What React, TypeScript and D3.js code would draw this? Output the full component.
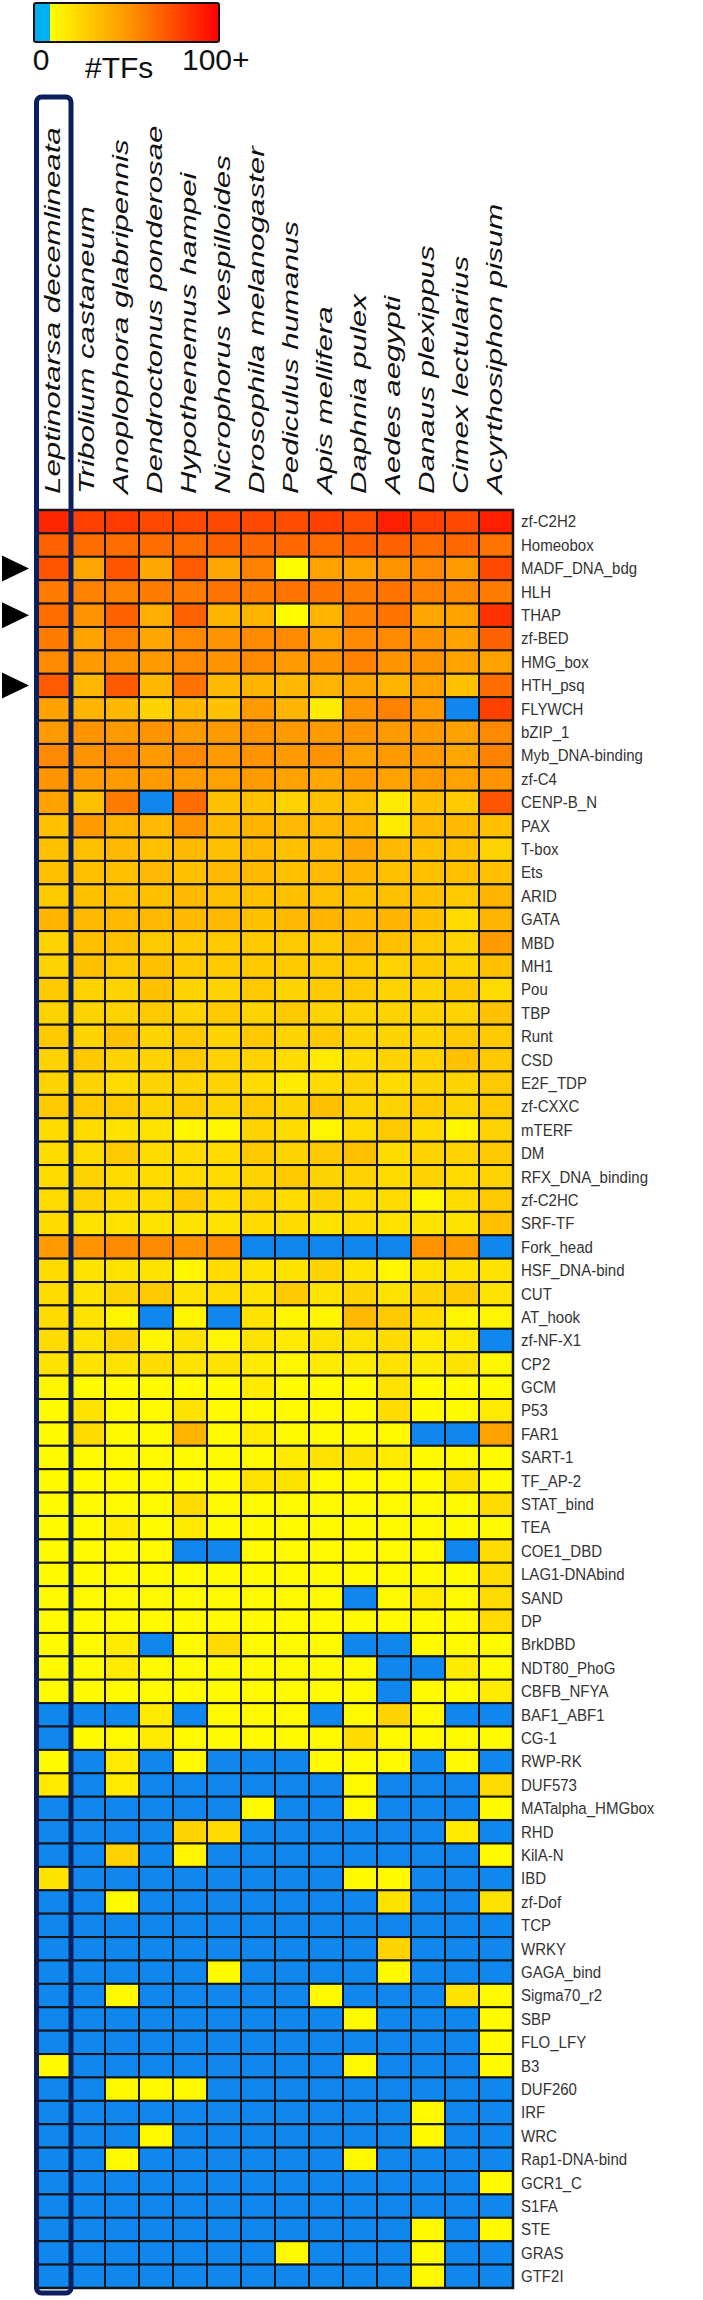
import React from "react";
import * as d3 from "d3";

const species = [
  "Leptinotarsa decemlineata",
  "Tribolium castaneum",
  "Anoplophora glabripennis",
  "Dendroctonus ponderosae",
  "Hypothenemus hampei",
  "Nicrophorus vespilloides",
  "Drosophila melanogaster",
  "Pediculus humanus",
  "Apis mellifera",
  "Daphnia pulex",
  "Aedes aegypti",
  "Danaus plexippus",
  "Cimex lectularius",
  "Acyrthosiphon pisum",
];

const families = [
  "zf-C2H2", "Homeobox", "MADF_DNA_bdg", "HLH", "THAP", "zf-BED", "HMG_box", "HTH_psq", "FLYWCH", "bZIP_1",
  "Myb_DNA-binding", "zf-C4", "CENP-B_N", "PAX", "T-box", "Ets", "ARID", "GATA", "MBD", "MH1",
  "Pou", "TBP", "Runt", "CSD", "E2F_TDP", "zf-CXXC", "mTERF", "DM", "RFX_DNA_binding", "zf-C2HC",
  "SRF-TF", "Fork_head", "HSF_DNA-bind", "CUT", "AT_hook", "zf-NF-X1", "CP2", "GCM", "P53", "FAR1",
  "SART-1", "TF_AP-2", "STAT_bind", "TEA", "COE1_DBD", "LAG1-DNAbind", "SAND", "DP", "BrkDBD", "NDT80_PhoG",
  "CBFB_NFYA", "BAF1_ABF1", "CG-1", "RWP-RK", "DUF573", "MATalpha_HMGbox", "RHD", "KilA-N", "IBD", "zf-Dof",
  "TCP", "WRKY", "GAGA_bind", "Sigma70_r2", "SBP", "FLO_LFY", "B3", "DUF260", "IRF", "WRC",
  "Rap1-DNA-bind", "GCR1_C", "S1FA", "STE", "GRAS", "GTF2I",
];

const markedFamilies = ["MADF_DNA_bdg", "THAP", "HTH_psq"];

// #TFs per family (rows in the order of `families`), one array per species
const lde = [85,62,67,52,58,52,47,65,37,40, 47,43,37,25,25,25,22,30,18,18, 22,18,22,18,18,22,15,15,15,15, 15,40,15,15,15,15,12,5,3,3, 3,3,3,3,3,3,3,3,3,3, 3,0,0,3,9,0,0,0,12,0, 0,0,0,0,0,0,3,0,0,0, 0,0,0,0,0,0];
const tca = [75,58,35,50,43,37,40,29,30,43, 43,40,25,40,25,25,25,28,25,25, 18,18,18,22,18,22,15,15,18,18, 12,43,12,12,12,12,12,3,12,15, 3,3,3,3,3,3,3,3,3,3, 3,0,3,0,0,0,0,0,0,0, 0,0,0,0,0,0,0,0,0,0, 0,0,0,0,0,0];
const agl = [78,58,67,50,62,50,43,65,29,40, 47,40,52,30,28,25,25,28,25,22, 18,18,25,18,15,22,12,22,15,15, 12,47,12,18,5,18,12,3,3,3, 3,3,3,9,3,3,3,3,9,9, 3,0,3,9,9,0,0,18,0,3, 0,0,0,3,0,0,0,3,0,0, 3,0,0,0,0,0];
const dpo = [72,58,35,52,33,35,40,29,18,43, 40,40,0,28,25,28,25,28,22,25, 25,22,18,18,18,18,12,15,15,15, 12,47,12,22,0,5,15,3,3,3, 3,3,3,3,3,3,3,3,0,3, 3,9,9,0,0,0,0,0,0,0, 0,0,0,0,0,0,0,3,0,3, 0,0,0,0,0,0];
const hha = [72,58,65,52,62,47,47,55,29,40, 47,40,58,43,28,25,28,28,22,22, 18,18,22,22,18,22,5,15,15,22, 12,43,5,12,5,12,12,3,12,30, 3,3,15,9,0,3,3,3,3,3, 3,0,3,3,0,0,18,5,0,0, 0,0,0,0,0,0,0,3,0,0, 0,0,0,0,0,0];
const nve = [72,62,35,55,30,43,43,28,25,40, 40,37,25,28,25,28,25,28,22,22, 18,22,18,18,18,18,5,15,15,15, 12,47,15,15,0,5,12,3,3,3, 3,3,3,3,0,3,3,3,15,3, 3,3,3,0,0,0,15,0,0,0, 0,0,3,0,0,0,0,0,0,0, 0,0,0,0,0,0];
const dme = [72,60,50,52,30,47,47,30,40,43, 43,40,25,30,28,28,25,25,22,22, 22,18,22,18,15,22,18,22,18,18, 15,0,12,12,12,12,9,9,3,9, 3,12,3,3,3,3,3,3,3,3, 3,3,3,0,0,3,0,0,0,0, 0,0,0,0,0,0,0,0,0,0, 0,0,0,0,0,0];
const phu = [70,60,2,55,2,47,40,28,30,40, 40,37,18,28,25,25,25,28,22,22, 18,22,18,15,9,18,15,18,22,15, 15,0,12,22,5,9,5,3,3,3, 9,12,3,3,3,3,3,3,3,3, 3,3,3,0,0,0,0,0,0,0, 0,0,0,0,0,0,0,0,0,0, 0,0,0,0,3,0];
const ame = [75,58,37,55,30,37,43,30,9,40, 43,35,25,28,28,28,25,30,22,22, 22,18,22,9,15,25,5,22,18,18, 12,0,18,12,5,12,9,3,3,3, 12,3,3,3,3,3,3,3,3,3, 3,0,3,3,0,0,0,0,0,0, 0,0,0,3,0,0,0,0,0,0, 0,0,0,0,0,0];
const dpu = [70,62,37,52,50,47,50,35,43,43, 37,40,25,30,35,30,25,28,28,22, 22,18,18,15,18,18,15,25,18,15, 15,0,12,18,28,12,9,3,3,3, 12,3,3,3,3,3,0,3,0,3, 3,3,15,3,3,3,0,0,3,0, 0,0,0,0,3,0,3,0,0,0, 3,0,0,0,0,0];
const aae = [88,62,43,55,55,47,43,30,50,40, 40,37,9,9,28,25,25,30,25,18, 18,18,18,18,15,18,22,15,15,15, 12,0,5,12,22,15,12,12,15,3, 9,3,3,3,3,3,3,3,0,0, 0,18,3,3,0,0,0,0,3,12, 0,18,3,0,0,0,0,0,0,0, 0,0,0,0,0,0];
const dpl = [75,58,47,50,35,43,43,37,40,40, 40,40,25,28,25,25,25,25,22,22, 18,18,18,18,18,22,15,18,18,5, 12,43,12,18,15,9,9,3,3,0, 3,3,3,3,3,3,9,3,3,0, 3,3,3,0,0,0,0,0,0,0, 0,0,0,0,0,0,0,0,3,3, 0,0,0,3,3,3];
const cle = [72,60,40,47,37,37,37,25,0,37, 35,37,22,28,25,25,22,15,18,18, 22,18,22,25,18,18,5,18,15,15, 12,40,12,22,5,9,12,3,3,0, 3,12,3,3,0,3,3,3,3,9, 3,0,3,3,0,0,9,0,0,0, 0,0,0,12,0,0,0,0,0,0, 0,0,0,0,0,0];
const api = [88,55,72,52,81,62,37,58,75,47, 50,43,67,25,18,25,30,30,40,25, 15,25,22,22,22,22,18,22,18,22, 25,0,12,12,5,0,5,3,9,37, 3,3,15,3,15,15,15,15,3,3, 9,0,3,0,15,3,0,3,0,12, 0,0,0,3,3,3,3,0,0,0, 0,3,0,3,0,0];

const seriesBySpecies = [lde, tca, agl, dpo, hha, nve, dme, phu, ame, dpu, aae, dpl, cle, api];

const legendLabels = ["0", "#TFs", "100+"];

const FONT = "'Liberation Sans', Arial, Helvetica, sans-serif";

export default function App() {
  const width = 703;
  const height = 2300;
  const gridLeft = 37;
  const gridRight = 513;
  const gridTop = 510;
  const gridBottom = 2288;

  const x = d3.scaleBand<string>().domain(species).range([gridLeft, gridRight]).padding(0);
  const y = d3.scaleBand<string>().domain(families).range([gridTop, gridBottom]).padding(0);
  const heat = d3
    .scaleLinear<string>()
    .domain([1, 100])
    .range(["#ffff00", "#ff0000"])
    .interpolate(d3.interpolateRgb)
    .clamp(true);
  const zeroColor = "#0f87ef";
  const colorOf = (v: number) => (v <= 0 ? zeroColor : heat(v));

  const bw = x.bandwidth();
  const bh = y.bandwidth();

  const cells: { key: string; x: number; y: number; fill: string }[] = [];
  species.forEach((sp, si) => {
    const series = seriesBySpecies[si];
    families.forEach((fam, fi) => {
      cells.push({ key: sp + "|" + fam, x: x(sp)!, y: y(fam)!, fill: colorOf(series[fi]) });
    });
  });

  // legend
  const legX0 = 34;
  const legX1 = 219;
  const legY0 = 3;
  const legY1 = 42;
  const legScale = d3.scaleLinear().domain([0, 100]).range([legX0, legX1]);
  const zeroFrac = (50 - legX0) / (legX1 - legX0);

  const boxX = x(species[0])!;
  const boxTop = 97;
  const boxBottom = 2293;

  const colFont = 22.5;
  const colBaseShift = ((0.716 - 0.21) / 2) * colFont;

  return (
    <svg
      width={width}
      height={height}
      style={{ position: "absolute", left: 0, top: 0, display: "block", background: "#fff" }}
      fontFamily={FONT}
    >
      <defs>
        <linearGradient id="legGrad" x1="0" x2="1" y1="0" y2="0">
          <stop offset="0" stopColor="#00b0f0" />
          <stop offset={zeroFrac} stopColor="#00b0f0" />
          <stop offset={zeroFrac} stopColor="#ffff00" />
          <stop offset={zeroFrac + (1 - zeroFrac) * 0.5} stopColor="#ff8c00" />
          <stop offset="1" stopColor="#ff0000" />
        </linearGradient>
      </defs>

      {/* legend */}
      <rect
        x={legScale(0)}
        y={legY0}
        width={legScale(100) - legScale(0)}
        height={legY1 - legY0}
        fill="url(#legGrad)"
        stroke="#111"
        strokeWidth={2}
        rx={2}
      />
      <text x={legScale(0) + 7} y={70} fontSize={30} textAnchor="middle" fill="#111">
        {legendLabels[0]}
      </text>
      <text x={85} y={78} fontSize={30} fill="#111">
        {legendLabels[1]}
      </text>
      <text x={182} y={70} fontSize={30} fill="#111">
        {legendLabels[2]}
      </text>

      {/* column labels */}
      {species.map((sp) => (
        <text
          key={sp}
          transform={`translate(${x(sp)! + bw / 2 + colBaseShift},494) rotate(-90) scale(1.39,1)`}
          fontSize={colFont}
          fontStyle="italic"
          fill="#111"
        >
          {sp}
        </text>
      ))}

      {/* cells */}
      <g>
        {cells.map((c) => (
          <rect key={c.key} x={c.x} y={c.y} width={bw} height={bh} fill={c.fill} stroke="#151515" strokeWidth={2} />
        ))}
      </g>
      <rect
        x={gridLeft}
        y={gridTop}
        width={gridRight - gridLeft}
        height={gridBottom - gridTop}
        fill="none"
        stroke="#151515"
        strokeWidth={2.5}
      />

      {/* row labels */}
      {families.map((f) => (
        <text
          key={f}
          transform={`translate(521,${y(f)! + bh / 2}) scale(0.97,1.08)`}
          dominantBaseline="central"
          fontSize={15.5}
          fill="#333"
        >
          {f}
        </text>
      ))}

      {/* arrows */}
      {markedFamilies.map((f) => {
        const cy = y(f)! + bh / 2;
        return <path key={f} d={`M2,${cy - 13} L29,${cy} L2,${cy + 13} Z`} fill="#000" />;
      })}

      {/* highlight box around first species */}
      <rect
        x={boxX - 0.5}
        y={boxTop}
        width={bw + 0.5}
        height={boxBottom - boxTop}
        rx={5}
        fill="none"
        stroke="#0b1f5e"
        strokeWidth={5}
      />
    </svg>
  );
}
